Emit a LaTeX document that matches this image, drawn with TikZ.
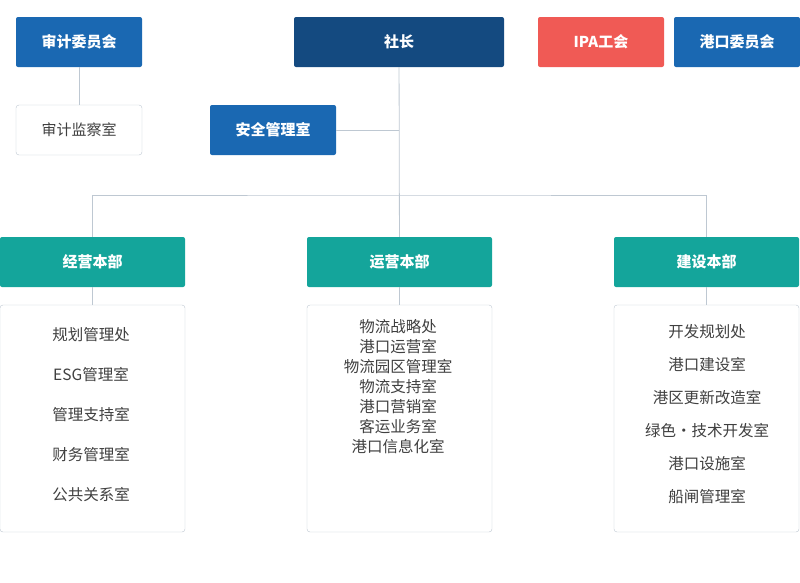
\documentclass[tikz,border=0pt]{standalone}
\usepackage{fontspec}
\setmainfont{Noto Sans CJK SC}
\definecolor{hdblue}{RGB}{26,104,178}
\definecolor{hdnavy}{RGB}{20,74,128}
\definecolor{hdred}{RGB}{240,90,85}
\definecolor{hdteal}{RGB}{20,165,155}
\definecolor{lnegray}{RGB}{190,200,210}
\tikzset{
  head/.style={rounded corners=2pt,text=white,font=\bfseries\fontsize{15}{18}\selectfont,inner sep=0pt},
  plain/.style={rounded corners=3pt,draw=lnegray,fill=white,text=black!75,font=\fontsize{15}{18}\selectfont,inner sep=0pt},
  link/.style={draw=lnegray,line width=0.8pt},
  item/.style={text=black!75,font=\fontsize{15.5}{18}\selectfont}
}
\begin{document}
\begin{tikzpicture}[x=1pt,y=-1pt]
	\useasboundingbox (0,0) rectangle (800,582);
	% top row
	\node [head,fill=hdblue,minimum width=126pt,minimum height=50pt] (audit) at (79,42) {审计委员会};
	\node [head,fill=hdnavy,minimum width=210pt,minimum height=50pt] (ceo) at (399,42) {社长};
	\node [head,fill=hdred,minimum width=126pt,minimum height=50pt] (ipa) at (601,42) {IPA工会};
	\node [head,fill=hdblue,minimum width=126pt,minimum height=50pt] (port) at (737,42) {港口委员会};
	% second row
	\node [plain,minimum width=126pt,minimum height=50pt] (inspect) at (79,130) {审计监察室};
	\node [head,fill=hdblue,minimum width=126pt,minimum height=50pt] (safety) at (273,130) {安全管理室};
	% headquarters
	\node [head,fill=hdteal,minimum width=185pt,minimum height=50pt] (biz) at (92.5,262) {经营本部};
	\node [head,fill=hdteal,minimum width=185pt,minimum height=50pt] (ops) at (399.5,262) {运营本部};
	\node [head,fill=hdteal,minimum width=185pt,minimum height=50pt] (build) at (706.5,262) {建设本部};
	% lists
	\node [plain,minimum width=185pt,minimum height=227pt] (bizlist) at (92.5,418.5) {};
	\node [plain,minimum width=185pt,minimum height=227pt] (opslist) at (399.5,418.5) {};
	\node [plain,minimum width=185pt,minimum height=227pt] (buildlist) at (706.5,418.5) {};
	\coordinate (split) at (399,195);
	\coordinate (branch) at (399,130);
	% connectors
	\draw [link] (audit) -- (inspect);
	\draw [link] (ceo) -- (ops);
	\draw [link] (safety) -- (branch);
	\draw [link] (biz.north) |- (split) -| (build.north);
	\draw [link] (biz) -- (bizlist);
	\draw [link] (ops) -- (opslist);
	\draw [link] (build) -- (buildlist);
	% items
	\foreach \t [count=\i] in {规划管理处,ESG管理室,管理支持室,财务管理室,公共关系室}
		\node [item] (biz\i) at (91,295+40*\i) {\t};
	\foreach \t [count=\i] in {物流战略处,港口运营室,物流园区管理室,物流支持室,港口营销室,客运业务室,港口信息化室}
		\node [item] (ops\i) at (398,307+20*\i) {\t};
	\foreach \t [count=\i] in {开发规划处,港口建设室,港区更新改造室,绿色·技术开发室,港口设施室,船闸管理室}
		\node [item] (build\i) at (707,299+33*\i) {\t};
\end{tikzpicture}
\end{document}
